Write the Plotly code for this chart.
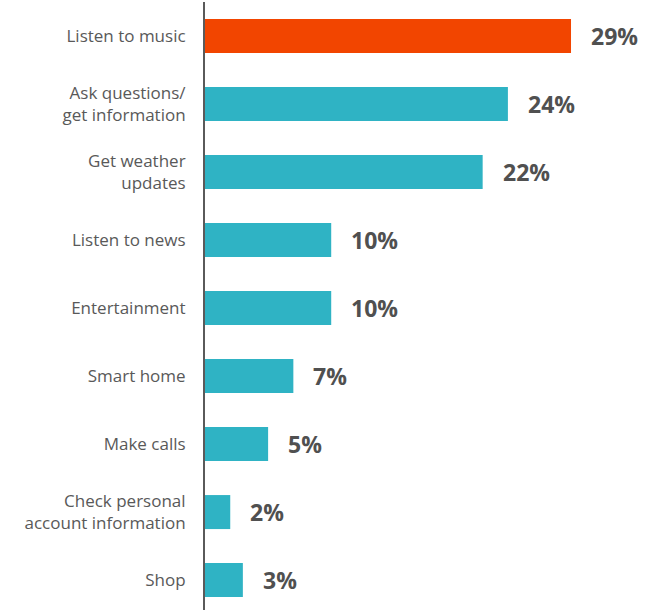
import plotly.graph_objects as go

# Voice-assistant usage shares (percent of respondents)
categories = [
    "Listen to music",
    "Ask questions/<br>get information",
    "Get weather<br>updates",
    "Listen to news",
    "Entertainment",
    "Smart home",
    "Make calls",
    "Check personal<br>account information",
    "Shop",
]
shares = [29, 24, 22, 10, 10, 7, 5, 2, 3]
value_labels = [f"{v}%" for v in shares]

highlight = "#F24500"
base = "#2FB3C4"
bar_colors = [highlight] + [base] * (len(shares) - 1)

fig = go.Figure(
    go.Bar(
        x=shares,
        y=categories,
        orientation="h",
        width=0.5,
        marker=dict(color=bar_colors, line=dict(width=0)),
        hoverinfo="skip",
    )
)

# Bold percentage labels to the right of each bar
for v, cat, txt in zip(shares, categories, value_labels):
    fig.add_annotation(
        x=v, y=cat, text=txt, showarrow=False,
        xanchor="left", yanchor="middle", xshift=18,
        font=dict(family="Open Sans", size=23, color="#505050", weight="bold"),
    )

fig.update_layout(
    width=648,
    height=610,
    margin=dict(l=205, r=0, t=2, b=0),
    paper_bgcolor="white",
    plot_bgcolor="white",
    showlegend=False,
    bargap=0.5,
    xaxis=dict(
        range=[0, 35.1],
        visible=False,
        showgrid=False,
        zeroline=False,
    ),
    yaxis=dict(
        type="category",
        categoryorder="array",
        categoryarray=categories,
        range=[8.44, -0.5],
        showline=True,
        linecolor="#5A5A5A",
        linewidth=2,
        showgrid=False,
        zeroline=False,
        ticks="",
        ticklabelstandoff=14,
        tickfont=dict(family="Open Sans", size=17, color="#595959"),
    ),
)

fig.write_html("out.html")
